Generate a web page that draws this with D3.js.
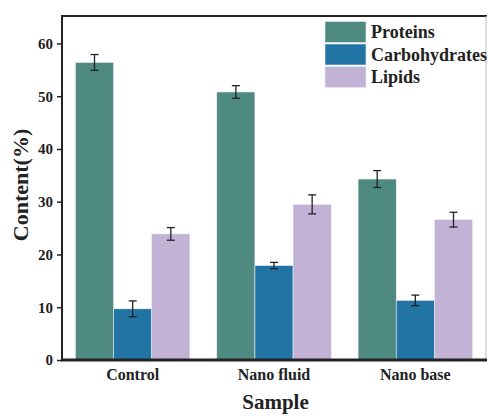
<!DOCTYPE html>
<html><head><meta charset="utf-8">
<script src="https://cdn.jsdelivr.net/npm/d3@7"></script>
<style>body{margin:0;background:#fff}svg{display:block}</style>
</head><body>
<svg id="c" width="488" height="416"></svg>
<script>
const categories = ["Control", "Nano fluid", "Nano base"];
const seriesNames = ["Proteins", "Carbohydrates", "Lipids"];
const proteins = [56.4, 50.8, 34.3];
const carbohydrates = [9.7, 17.9, 11.3];
const lipids = [23.9, 29.5, 26.6];
const proteinsErr = [1.5, 1.2, 1.6];
const carbohydratesErr = [1.5, 0.6, 1.0];
const lipidsErr = [1.2, 1.8, 1.4];
const yTicks = [0, 10, 20, 30, 40, 50, 60];
const colors = ["#4f8a80", "#2274a5", "#c2b2d6"];

const values = [proteins, carbohydrates, lipids];
const errs = [proteinsErr, carbohydratesErr, lipidsErr];

const svg = d3.select("#c");
const L = 62, R = 486, T = 16, B = 360;
const font = "'Liberation Serif','Times New Roman',serif";

const x0 = d3.scaleBand().domain(categories).range([L, R]).paddingInner(0.19).paddingOuter(0.095);
const x1 = d3.scaleBand().domain(seriesNames).range([0, x0.bandwidth()]).padding(0);
const y = d3.scaleLinear().domain([0, 65.2]).range([B, T]);

const g = svg.append("g");
categories.forEach((c, ci) => {
  seriesNames.forEach((s, si) => {
    const v = values[si][ci];
    g.append("rect")
      .attr("x", x0(c) + x1(s))
      .attr("y", y(v))
      .attr("width", x1.bandwidth())
      .attr("height", y(0) - y(v))
      .attr("fill", colors[si])
      .attr("stroke", "#e8eef0").attr("stroke-width", 0.6);
  });
});
categories.forEach((c, ci) => {
  seriesNames.forEach((s, si) => {
    const v = values[si][ci], e = errs[si][ci];
    const cx = x0(c) + x1(s) + x1.bandwidth() / 2;
    const eg = g.append("g").attr("stroke", "#222").attr("stroke-width", 1.3);
    eg.append("line").attr("x1", cx).attr("x2", cx).attr("y1", y(v + e)).attr("y2", y(v - e));
    eg.append("line").attr("x1", cx - 4).attr("x2", cx + 4).attr("y1", y(v + e)).attr("y2", y(v + e));
    eg.append("line").attr("x1", cx - 4).attr("x2", cx + 4).attr("y1", y(v - e)).attr("y2", y(v - e));
  });
});

svg.append("line").attr("x1", L).attr("x2", R + 1).attr("y1", T).attr("y2", T).attr("stroke", "#222").attr("stroke-width", 2);
svg.append("line").attr("x1", R).attr("x2", R).attr("y1", T).attr("y2", B).attr("stroke", "#bbb").attr("stroke-width", 1);

const ya = svg.append("g").attr("transform", `translate(${L},0)`)
  .call(d3.axisLeft(y).tickValues(yTicks).tickSize(5).tickPadding(4));
ya.select(".domain").attr("stroke", "#222").attr("stroke-width", 2).attr("d", `M0,${T - 1}V${B}`);
ya.selectAll(".tick line").attr("stroke", "#222").attr("stroke-width", 1.5);
ya.selectAll(".tick text").attr("font-family", font).attr("font-weight", "bold").attr("font-size", 15).attr("fill", "#222");

const xa = svg.append("g").attr("transform", `translate(0,${B})`)
  .call(d3.axisBottom(x0).tickSize(0).tickPadding(9));
xa.select(".domain").attr("stroke", "#222").attr("stroke-width", 3).attr("d", `M${L - 1},0H${R + 1}`);
xa.selectAll(".tick text").attr("font-family", font).attr("font-weight", "bold").attr("font-size", 16).attr("fill", "#222");

svg.append("text").attr("transform", `translate(28,185) rotate(-90)`)
  .attr("text-anchor", "middle").attr("font-family", font).attr("font-weight", "bold")
  .attr("font-size", 22).attr("fill", "#222").text("Content(%)");
svg.append("text").attr("x", 275.5).attr("y", 409)
  .attr("text-anchor", "middle").attr("font-family", font).attr("font-weight", "bold")
  .attr("font-size", 21).attr("fill", "#222").text("Sample");

const lg = svg.append("g");
seriesNames.forEach((s, i) => {
  lg.append("rect").attr("x", 325).attr("y", 21.5 + i * 22.5).attr("width", 41).attr("height", 21)
    .attr("fill", colors[i]).attr("stroke", "#e8eef0").attr("stroke-width", 0.6);
  lg.append("text").attr("x", 371).attr("y", 38 + i * 22.5)
    .attr("font-family", font).attr("font-weight", "bold").attr("font-size", 18).attr("fill", "#222").text(s);
});
</script>
</body></html>
